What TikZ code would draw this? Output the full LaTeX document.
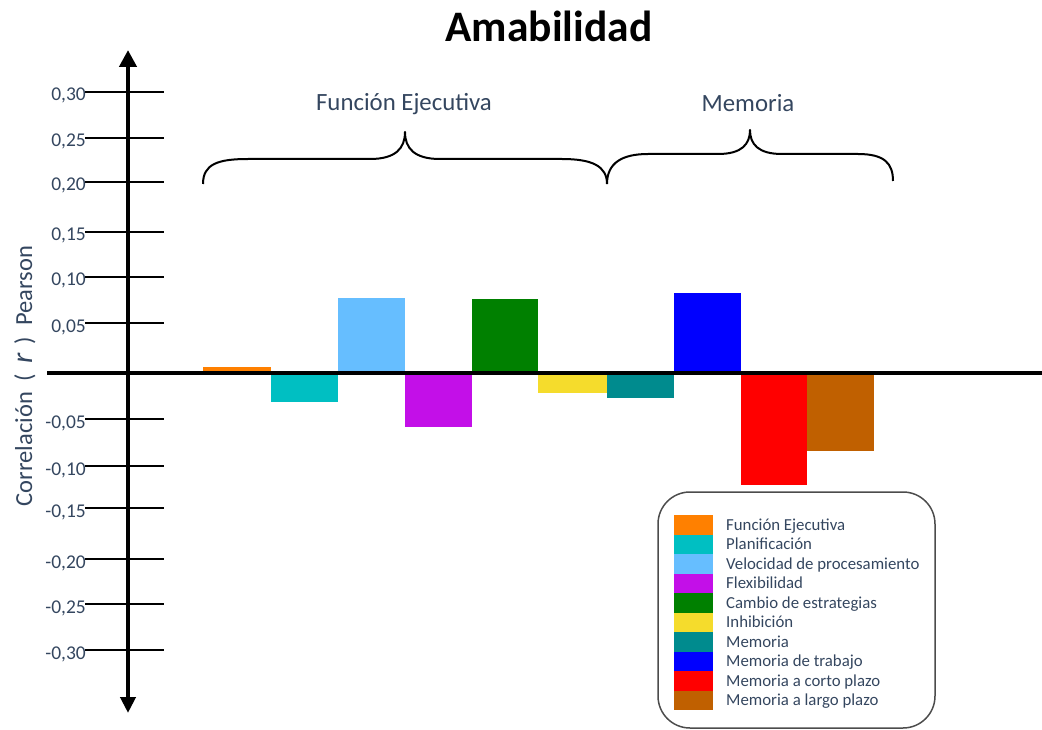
\documentclass[tikz,border=0pt]{standalone}
\usepackage{fontspec}
\setmainfont{Carlito}
\usetikzlibrary{arrows.meta}

\definecolor{txt}{HTML}{34465F}
\definecolor{cFE}{HTML}{FF8000}
\definecolor{cPL}{HTML}{00BFC2}
\definecolor{cVP}{HTML}{66BEFF}
\definecolor{cFL}{HTML}{C30FE8}
\definecolor{cCE}{HTML}{008000}
\definecolor{cIN}{HTML}{F5DC2C}
\definecolor{cME}{HTML}{008B8E}
\definecolor{cMT}{HTML}{0000FF}
\definecolor{cMC}{HTML}{FF0000}
\definecolor{cML}{HTML}{C06000}

\tikzset{
  ticklbl/.style={anchor=base east, inner sep=0pt, text=txt, font=\fontsize{19.5}{22}\selectfont},
  ticksty/.style={line width=1.8pt, black},
  groupbrace/.style={line width=2pt, black, line join=round},
  grouplbl/.style={anchor=base, inner sep=0pt, text=txt, font=\fontsize{24.8}{28}\selectfont},
  legtxt/.style={anchor=base west, inner sep=0pt, text=txt, font=\fontsize{16.8}{19}\selectfont},
  barsty/.style={draw=none},
}

\begin{document}
\begin{tikzpicture}[x=1pt,y=-1pt]
\useasboundingbox (0,0) rectangle (1042,730);

% title
\node[anchor=base, inner sep=0pt, font=\fontsize{43.5}{48}\selectfont\bfseries] (title) at (549,42) {Amabilidad};

% tick marks and their values
\foreach \yy/\lab in {91.7/{0,30},138/{0,25},182/{0,20},232/{0,15},277/{0,10},323/{0,05},
                      419/{-0,05},466/{-0,10},508/{-0,15},559/{-0,20},604/{-0,25},650/{-0,30}}{
  \draw[ticksty] (85,\yy) -- (164,\yy);
  \node[ticklbl] at (86,\yy+9) {\lab};
}

% bars
\fill[barsty, cFE] (203,367) rectangle (271,373);
\fill[barsty, cPL] (271,373) rectangle (338,402);
\fill[barsty, cVP] (338,298) rectangle (405,373);
\fill[barsty, cFL] (405,373) rectangle (472,427);
\fill[barsty, cCE] (472,299) rectangle (538,373);
\fill[barsty, cIN] (538,373) rectangle (607,393);
\fill[barsty, cME] (607,373) rectangle (674,398);
\fill[barsty, cMT] (674,293) rectangle (741,373);
\fill[barsty, cMC] (741,373) rectangle (807,485);
\fill[barsty, cML] (807,373) rectangle (874,451);

% axes
\coordinate (xl) at (47,373);
\coordinate (xr) at (1042,373);
\coordinate (yb) at (128,713);
\coordinate (yt) at (128,50);
\draw[line width=4pt, black] (xl) -- (xr);
\draw[line width=4.6pt, black, {Triangle[width=15pt,length=16pt]}-{Triangle[width=17pt,length=17pt]}] (yb) -- (yt);

% axis title
\node[anchor=base, inner sep=0pt, rotate=90, text=txt, font=\fontsize{24.5}{27}\selectfont] (ylab) at (32,376)
  {Correlación \ ( \,{\fontsize{30}{31}\selectfont\itshape r}\, ) \ Pearson};

% group braces
\draw[groupbrace] (203,184) .. controls (203,164) and (218,159) .. (248,159) -- (370,159)
  .. controls (396,159) and (405,148) .. (405,132)
  .. controls (405,148) and (414,159) .. (440,159) -- (562,159)
  .. controls (592,159) and (607,166) .. (607,184);
\draw[groupbrace] (607,184) .. controls (607,163) and (622,154) .. (648,154) -- (718,154)
  .. controls (742,154) and (750,144) .. (750,130)
  .. controls (750,144) and (758,154) .. (782,154) -- (858,154)
  .. controls (884,154) and (893,163) .. (893,181);
\node[grouplbl] (gfe) at (404,111) {Función Ejecutiva};
\node[grouplbl] (gme) at (748,112) {Memoria};

% legend
\draw[line width=1.5pt, black!70, rounded corners=32pt] (658,492) rectangle (935,728);
\foreach \c/\t [count=\i from 0] in {cFE/Función Ejecutiva, cPL/Planificación,
    cVP/Velocidad de procesamiento, cFL/Flexibilidad, cCE/Cambio de estrategias,
    cIN/Inhibición, cME/Memoria, cMT/Memoria de trabajo,
    cMC/Memoria a corto plazo, cML/Memoria a largo plazo}{
  \fill[\c] (674,515+\i*19.5) rectangle (713,534.5+\i*19.5);
  \node[legtxt] (leg\i) at (726,530+\i*19.5) {\t};
}
\end{tikzpicture}
\end{document}
